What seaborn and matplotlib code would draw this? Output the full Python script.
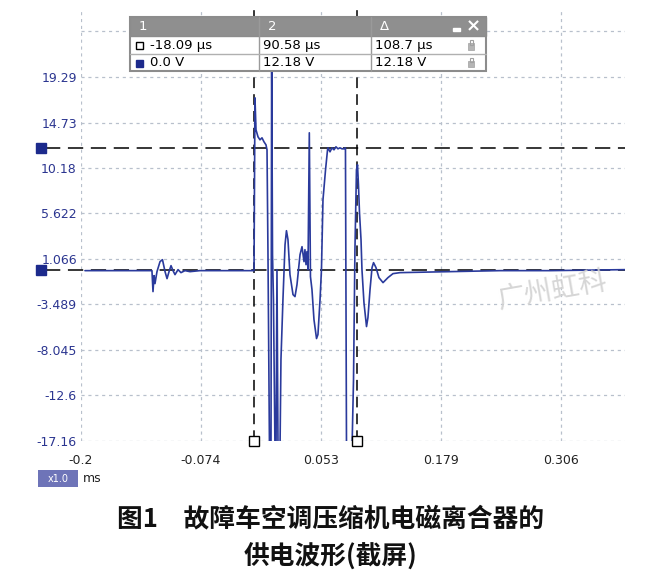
import matplotlib
matplotlib.use("Agg")
import matplotlib.pyplot as plt
from matplotlib.patches import Rectangle
import seaborn as sns
import pandas as pd

# ---------------- data ----------------
time_ms = [-0.1958, -0.1273, -0.1252, -0.1241, -0.1230, -0.1220, -0.1199, -0.1167, -0.1141, -0.1114,
           -0.1093, -0.1072, -0.1051, -0.1030, -0.1009, -0.0977, -0.0946, -0.0904, -0.0851, -0.0746,
           -0.0218, -0.0176, -0.0166, -0.0155, -0.0134, -0.0113, -0.0092, -0.0071, -0.0050, -0.0039,
           -0.0029, -0.0013, 0.0003, 0.0010, 0.0019, 0.0029, 0.0045, 0.0056, 0.0066, 0.0077,
           0.0098, 0.0108, 0.0129, 0.0151, 0.0166, 0.0182, 0.0203, 0.0235, 0.0256, 0.0277,
           0.0309, 0.0330, 0.0351, 0.0361, 0.0372, 0.0382, 0.0393, 0.0407, 0.0419, 0.0435,
           0.0456, 0.0483, 0.0498, 0.0520, 0.0535, 0.0551, 0.0578, 0.0599, 0.0604, 0.0625,
           0.0646, 0.0667, 0.0688, 0.0709, 0.0730, 0.0751, 0.0773, 0.0788, 0.0799, 0.0857,
           0.0873, 0.0888, 0.0904, 0.0915, 0.0925, 0.0936, 0.0952, 0.0962, 0.0983, 0.1010,
           0.1025, 0.1047, 0.1068, 0.1084, 0.1110, 0.1141, 0.1184, 0.1236, 0.1289, 0.1363,
           0.1890, 0.2417, 0.2944, 0.3735]
voltage_v = [-0.1, -0.1, -0.1, -2.2, -0.6, -1.4, -0.2, 0.8, 1.0, -0.2,
             -0.9, -0.2, 0.4, -0.1, -0.5, 0.0, -0.3, -0.1, -0.2, -0.1,
             -0.1, -0.1, 17.2, 14.0, 13.3, 13.0, 13.2, 12.8, 12.5, 12.0,
             1.8, -18.0, -18.0, 22.0, 1.5, -3.0, -18.0, -18.0, 0.0, -18.0,
             -18.0, -9.0, -3.0, 2.5, 3.9, 3.0, -0.5, -2.5, -2.7, -1.5,
             1.5, 2.3, 0.8, 2.0, 0.5, 1.8, 0.0, 13.7, -0.7, -2.0,
             -5.0, -6.9, -6.5, -3.0, 0.0, 7.0, 10.0, 12.0, 12.2, 11.8,
             12.2, 12.0, 12.3, 12.1, 12.2, 12.1, 12.1, 12.2, -18.0, -18.0,
             -11.0, 2.0, 10.0, 10.5, 8.5, 5.7, 3.0, 0.0, -3.3, -5.7,
             -4.8, -2.0, 0.2, 0.7, 0.2, -0.8, -1.3, -0.8, -0.4, -0.3,
             -0.2, -0.1, -0.1, 0.0]

x_ticks = [-0.2, -0.074, 0.053, 0.179, 0.306]
x_tick_labels = ["-0.2", "-0.074", "0.053", "0.179", "0.306"]
y_ticks = [-17.16, -12.6, -8.045, -3.489, 1.066, 5.622, 10.18, 14.73, 19.29, 23.85]
y_tick_labels = ["-17.16", "-12.6", "-8.045", "-3.489", "1.066", "5.622", "10.18", "14.73", "19.29", ""]

cursor_t = [-0.01809, 0.09058]
cursor_v = [0.0, 12.18]
table_header = ["1", "2", "\u0394"]
table_row1 = ["-18.09 \u00b5s", "90.58 \u00b5s", "108.7 \u00b5s"]
table_row2 = ["0.0 V", "12.18 V", "12.18 V"]
caption1 = "图1\u3000故障车空调压缩机电磁离合器的"
caption2 = "供电波形(截屏)"
watermark = "广州虹科"

# ---------------- style ----------------
sns.set_style("white")
plt.rcParams["font.family"] = ["DejaVu Sans", "Noto Sans CJK SC"]

W, H = 663, 580
fig = plt.figure(figsize=(W / 100, H / 100), dpi=100)
fig.patch.set_facecolor("white")


def fx(x):
    return x / W


def fy(y):
    return 1 - y / H


ax = fig.add_axes([fx(81), fy(441), 544 / W, 431 / H])
df = pd.DataFrame({"t": time_ms, "v": voltage_v})
trace_col = "#2a3a9c"
sns.lineplot(data=df, x="t", y="v", sort=False, estimator=None, ax=ax,
             color=trace_col, linewidth=1.2, zorder=4)

ax.set_xlim(-0.2, 0.3735)
ax.set_ylim(-17.16, 26.0)
ax.set_xticks(x_ticks)
ax.set_xticklabels(x_tick_labels)
ax.set_yticks(y_ticks)
ax.set_yticklabels(y_tick_labels)
ax.set_xlabel("")
ax.set_ylabel("")
for s in ax.spines.values():
    s.set_visible(False)
ax.tick_params(axis="both", length=0)
ax.tick_params(axis="y", pad=3, labelsize=9, labelcolor="#2b3590")
ax.tick_params(axis="x", pad=9, labelsize=9, labelcolor="#222222")
ax.grid(True, linestyle=(0, (2.5, 3)), color="#b8c0cc", linewidth=0.9)
ax.set_axisbelow(True)

# cursors: vertical
for ct in cursor_t:
    ax.axvline(ct, color="black", linestyle=(0, (7, 4)), linewidth=1.1, zorder=3)
    ax.plot([ct], [-17.16], marker="s", markersize=7, markerfacecolor="white",
            markeredgecolor="black", markeredgewidth=1.0, clip_on=False, zorder=6)

# cursors: horizontal
ytr = ax.get_yaxis_transform()
for cv in cursor_v:
    ax.plot([-0.066, 1.0], [cv, cv], transform=ytr, color="black",
            linestyle=(0, (10, 5)), linewidth=1.1, clip_on=False, zorder=3)
    ax.plot([-0.0735], [cv], transform=ytr, marker="s", markersize=7,
            color="#1c2a8c", clip_on=False, zorder=6)

# ---------------- cursor table ----------------
tx0, tx1 = 130, 486
rows = [17, 36, 54, 71]
cols = [130, 259, 371, 486]
fig.add_artist(Rectangle((fx(tx0), fy(rows[3])), (tx1 - tx0) / W, (rows[3] - rows[0]) / H,
                         transform=fig.transFigure, facecolor="white", edgecolor="#8c8c8c",
                         linewidth=1.5, zorder=10))
fig.add_artist(Rectangle((fx(tx0), fy(rows[1])), (tx1 - tx0) / W, (rows[1] - rows[0]) / H,
                         transform=fig.transFigure, facecolor="#8f8f8f", edgecolor="#8c8c8c",
                         linewidth=1.0, zorder=11))
for c in cols[1:3]:
    fig.add_artist(plt.Line2D([fx(c), fx(c)], [fy(rows[0]), fy(rows[3])],
                              transform=fig.transFigure, color="#9a9a9a", linewidth=1.0, zorder=12))
fig.add_artist(plt.Line2D([fx(tx0), fx(tx1)], [fy(rows[2]), fy(rows[2])],
                          transform=fig.transFigure, color="#b0b0b0", linewidth=1.0, zorder=12))
for i, h in enumerate(table_header):
    fig.text(fx(cols[i] + 9), fy(27), h, color="white", fontsize=9.5,
             va="center", ha="left", zorder=13)
for i, txt in enumerate(table_row1):
    fig.text(fx(cols[i] + (20 if i == 0 else 4)), fy(45.5), txt, color="black", fontsize=9.5,
             va="center", ha="left", zorder=13)
for i, txt in enumerate(table_row2):
    fig.text(fx(cols[i] + (20 if i == 0 else 4)), fy(63), txt, color="black", fontsize=9.5,
             va="center", ha="left", zorder=13)
# row markers
fig.add_artist(Rectangle((fx(136), fy(49)), 7 / W, 7 / H, transform=fig.transFigure,
                         facecolor="white", edgecolor="black", linewidth=1.0, zorder=13))
fig.add_artist(Rectangle((fx(136), fy(66.5)), 7 / W, 7 / H, transform=fig.transFigure,
                         facecolor="#1c2a8c", edgecolor="#1c2a8c", linewidth=1.0, zorder=13))
# header icons
fig.add_artist(Rectangle((fx(453), fy(31)), 7 / W, 3 / H, transform=fig.transFigure,
                         facecolor="white", edgecolor="white", zorder=13))
fig.text(fx(473), fy(26.5), "\u00d7", color="white", fontsize=13, fontweight="bold",
         ha="center", va="center", zorder=13)
# lock icons
for yy in (45.5, 63):
    fig.add_artist(Rectangle((fx(468), fy(yy + 4)), 6 / W, 6 / H, transform=fig.transFigure,
                             facecolor="#b5b5b5", edgecolor="#a0a0a0", linewidth=0.5, zorder=13))
    fig.add_artist(Rectangle((fx(469.5), fy(yy - 1)), 3 / W, 4 / H, transform=fig.transFigure,
                             facecolor="none", edgecolor="#a0a0a0", linewidth=0.8, zorder=13))

# ---------------- zoom box and unit ----------------
fig.add_artist(Rectangle((fx(38), fy(487)), 40 / W, 17 / H, transform=fig.transFigure,
                         facecolor="#6e74b8", edgecolor="none", zorder=10))
fig.text(fx(58), fy(478.5), "x1.0", color="white", fontsize=7, ha="center", va="center", zorder=11)
fig.text(fx(83), fy(478), "ms", color="#222222", fontsize=9, ha="left", va="center")

# watermark
fig.text(fx(553), fy(291), watermark, color="#d2d2d2", fontsize=20, ha="center", va="center",
         rotation=10, style="italic", family=["Noto Sans CJK SC", "DejaVu Sans"], alpha=0.9, zorder=8)

# ---------------- caption ----------------
fig.text(fx(331), fy(519), caption1, fontsize=18.5, fontweight="bold", ha="center", va="center",
         family=["Noto Sans CJK SC", "DejaVu Sans"], color="#111111")
fig.text(fx(331), fy(557), caption2, fontsize=18.5, fontweight="bold", ha="center", va="center",
         family=["Noto Sans CJK SC", "DejaVu Sans"], color="#111111")

fig.savefig("out.png", dpi=100, facecolor="white")
